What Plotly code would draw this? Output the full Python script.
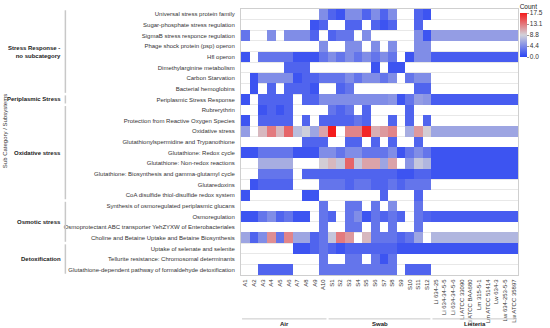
import plotly.graph_objects as go

N = None

rows = [
    "Universal stress protein family",
    "Sugar-phosphate stress regulation",
    "SigmaB stress responce regulation",
    "Phage shock protein (psp) operon",
    "Hfl operon",
    "Dimethylarginine metabolism",
    "Carbon Starvation",
    "Bacterial hemoglobins",
    "Periplasmic Stress Response",
    "Rubrerythrin",
    "Protection from Reactive Oxygen Species",
    "Oxidative stress",
    "Glutathionylspermidine and Trypanothione",
    "Glutathione: Redox cycle",
    "Glutathione: Non-redox reactions",
    "Glutathione: Biosynthesis and gamma-glutamyl cycle",
    "Glutaredoxins",
    "CoA disulfide thiol-disulfide redox system",
    "Synthesis of osmoregulated periplasmic glucans",
    "Osmoregulation",
    "Osmoprotectant ABC transporter YehZYXW of Enterobacteriales",
    "Choline and Betaine Uptake and Betaine Biosynthesis",
    "Uptake of selenate and selenite",
    "Tellurite resistance: Chromosomal determinants",
    "Glutathione-dependent pathway of formaldehyde detoxification",
]

row_groups = [
    ("Stress Response -<br>no subcategory", 8),
    ("Periplasmic Stress", 1),
    ("Oxidative stress", 9),
    ("Osmotic stress", 4),
    ("Detoxification", 3),
]

air_cols = ["A1", "A2", "A3", "A4", "A5", "A6", "A7", "A8", "A9", "A10"]
swab_cols = ["S1", "S2", "S3", "S4", "S5", "S6", "S7", "S8", "S9", "S10", "S11", "S12"]
listeria_cols = ["Li 634-25", "Li 634-34-5-5", "Li 634-34-5-6", "Li ATCC 33090",
                 "Li ATCC BAA680", "Lm 315-5-1", "Lm ATCC 51414", "Lw 634-3",
                 "Lw 634-253-5-5", "Lw ATCC 35897"]

air_vals = [
    [N, N, N, N, N, N, N, N, N, 4.5],
    [N, N, N, N, N, N, N, N, 1, 2],
    [3, N, N, 4.5, N, 4.5, 4.5, 4.5, 2, N],
    [N, N, N, N, N, N, N, N, N, 4.5],
    [1, N, 3, 3, 3, 3, 1, 1, 1, 3],
    [N, N, N, N, N, 2, 2, 2, N, N],
    [N, 1, 4.5, 4.5, 4.5, 4.5, 1, 2, 2, 3],
    [N, 1, N, 2, N, 2, 2, 2, 1, N],
    [1, N, 2, 2, 2, 2, N, 2, 2, 4.5],
    [N, N, 1, 2, 1, 2, N, N, N, N],
    [1, N, 2, 2, 2, 2, N, 2, N, 2],
    [5.5, N, 10, 13, 10, 14, 7.5, 8.5, 6, 11],
    [N, N, N, N, N, N, N, 2, 2, 2],
    [1, 1, 3, 3, 3, 3, 1, 1, 1, 4.5],
    [N, N, 6.5, 6.5, 6.5, 6.5, N, N, N, 9],
    [N, N, 3, 3, 3, 3, N, 2, 2, 2],
    [N, 1, 2, 2, 2, 2, N, N, N, 3],
    [1, N, N, N, N, N, N, 1, 1, N],
    [N, N, N, N, N, N, N, N, N, 3],
    [1, 1, 3, 4.5, 2, 3, 1, 1, N, 3],
    [N, N, N, N, N, N, N, N, N, 3],
    [6, 2, 4.5, 12, 3, 12.5, 6, 6, 2, 3],
    [N, N, N, N, N, N, 1, 1, 2, 3],
    [N, N, N, N, N, N, N, N, N, 3],
    [N, N, 2, 2, 2, 2, N, N, N, 3],
]

swab_vals = [
    [2, 1, 4.5, 4.5, 2, 4.5, 2, 4.5, N, N, 2, 1],
    [N, N, 2, 2, N, 2, 1, 2, N, N, 2, N],
    [2, 3, 3, N, 4.5, N, N, N, N, N, 4.5, 1],
    [N, N, 4.5, 4.5, N, 4.5, N, 4.5, N, N, 4.5, 4.5],
    [4.5, 3, 4.5, 3, 4.5, 3, 4.5, 3, N, 1, 4.5, 4.5],
    [N, N, N, N, N, 1, N, 1, 1, N, N, N],
    [3, 3, 4.5, 3, 4.5, 4.5, 3, 4.5, N, 3, 4.5, 4.5],
    [N, 2, 3, N, N, N, N, N, N, N, 2, 2],
    [4.5, 4.5, 4.5, 4.5, 4.5, 4.5, 4.5, 5, 1, 3, 5.5, 5],
    [3, 2, 3, N, 2, N, N, N, N, 2, N, N],
    [2, 2, 2, 3, 2, N, N, 2, N, 2, N, 2],
    [17.5, N, 12.5, 12.5, 17, 10.5, 11.5, 12.5, N, 6.5, 11.5, 9],
    [N, N, 2, 2, N, 2, N, 2, N, N, 2, N],
    [4.5, 3, 4.5, 4.5, 3, 3, 3, 4.5, 1, 3, 4.5, 3],
    [10, 8, 14, 8, 11, 11, 6, 11, N, 5, 8, 7],
    [2, 2, 2, 2, 2, 2, 2, 2, 1, 1, 2, 2],
    [3, 3, 2, 3, 3, 2, 2, 3, 2, 3, 3, 3],
    [N, N, N, N, N, N, 2, N, N, N, 2, N],
    [N, N, 3, 3, N, 3, N, 4.5, N, N, 3, N],
    [2, N, 3, 4.5, 1, 3, 2, 3, 2, N, 3, 2],
    [N, N, 3, 3, N, 3, N, 3, N, N, 3, N],
    [8, 13, 11.5, N, 10, 3, 3, 3, 2, 3, 6, N],
    [2, 1, 2, 2, 2, 2, 2, 2, 1, 1, 1, 1],
    [N, N, 3, 3, N, 3, 1, 3, N, N, N, N],
    [3, 3, 3, 3, 3, 3, 3, 3, N, 2, 2, 2],
]

listeria_vals = [
    [N, N, N, N, N, N, N, N, N, N],
    [N, N, N, N, N, N, N, N, N, N],
    [5.5, 5.5, 5.5, 5.5, 5.5, 5.5, 5.5, 5.5, 5.5, 5.5],
    [N, N, N, N, N, N, N, N, N, N],
    [1.5, 1.5, 1.5, 1.5, 1.5, 1.5, 1.5, 1.5, 1.5, 1.5],
    [N, N, N, N, N, N, N, N, N, N],
    [N, N, N, N, N, N, N, N, N, N],
    [N, N, N, N, N, N, N, N, N, N],
    [1.5, 1.5, 1.5, 1.5, 1.5, 1.5, 1.5, 1.5, 1.5, 1.5],
    [N, N, N, N, N, N, N, N, N, N],
    [N, N, N, N, N, N, N, N, N, N],
    [6, 6, 6, 6, 6, 6, 6, 6, 6, 6],
    [N, N, N, N, N, N, N, N, N, N],
    [1, 1, 1, 1, 1, 1, 1, 1, 1, 1],
    [1, 1, 1, 1, 1, 1, 1, 1, 1, 1],
    [1, 1, 1, 1, 1, 1, 1, 1, 1, 1],
    [N, N, N, N, N, N, N, N, N, N],
    [N, N, N, N, N, N, N, N, N, N],
    [N, N, N, N, N, N, N, N, N, N],
    [1.5, 1.5, 1.5, 1.5, 1.5, 1.5, 1.5, 1.5, 1.5, 1.5],
    [N, N, N, N, N, N, N, N, N, N],
    [7, 7, 7, 7, 7, 7, 7, 7, 7, 7],
    [1, 1, 1, 1, 1, 1, 1, 1, 1, 1],
    [N, N, N, N, N, N, N, N, N, N],
    [N, N, N, N, N, N, N, N, N, N],
]

col_groups = [("Air", air_cols), ("Swab", swab_cols), ("Listeria", listeria_cols)]
columns = air_cols + swab_cols + listeria_cols
z = [a + s + l for a, s, l in zip(air_vals, swab_vals, listeria_vals)]

FONT = "Liberation Sans, Arial, sans-serif"
xs = list(range(len(columns)))
ys = list(range(len(rows)))

fig = go.Figure(go.Heatmap(
    z=z, x=xs, y=ys,
    zmin=0, zmax=17.5,
    colorscale=[[0, "#2a44f4"], [0.5, "#d2d2da"], [1, "#f41c1c"]],
    hoverongaps=False,
    colorbar=dict(
        title=dict(text="Count", side="top", font=dict(size=6.5, family=FONT, color="#222")),
        thickness=7, lenmode="pixels", len=56,
        x=1.006, xanchor="left", xpad=0,
        y=1.03, yanchor="top", ypad=0,
        tickvals=[0, 4.375, 8.75, 13.125, 17.5],
        ticktext=["0.0", "4.4", "8.8", "13.1", "17.5"],
        tickfont=dict(size=6.5, family=FONT, color="#333"),
        ticks="outside", ticklen=2, tickcolor="#999",
        outlinewidth=0,
    ),
))

fig.update_layout(
    width=550, height=328,
    margin=dict(l=241, r=32, t=9, b=53, autoexpand=False),
    paper_bgcolor="white", plot_bgcolor="white",
    font=dict(family=FONT, size=6, color="#333"),
    showlegend=False,
)

fig.update_xaxes(
    tickvals=xs, ticktext=columns, tickangle=-90,
    tickfont=dict(size=6, family=FONT, color="#333"),
    range=[-0.5, len(columns) - 0.5],
    showgrid=False, zeroline=False, automargin=False,
    showline=True, mirror=True, linecolor="#cfcfcf", linewidth=1,
    ticks="", ticklabelstandoff=1,
)
fig.update_yaxes(
    tickvals=ys, ticktext=rows,
    tickfont=dict(size=6, family=FONT, color="#333"),
    range=[len(rows) - 0.5, -0.5],
    showgrid=False, zeroline=False, automargin=False,
    showline=True, mirror=True, linecolor="#cfcfcf", linewidth=1,
    ticks="", ticklabelstandoff=4,
    minor=dict(tick0=0.5, dtick=1, showgrid=True, gridcolor="#e8e8e8", gridwidth=1, ticks=""),
)

shapes = []
annotations = []

# row group brackets and labels
start = 0
for name, count in row_groups:
    end = start + count - 1
    shapes.append(dict(type="line", xref="paper", yref="y",
                       x0=-0.634, x1=-0.634, y0=start - 0.5 + 0.12, y1=end + 0.5 - 0.12,
                       line=dict(color="#c8c8c8", width=1.5)))
    annotations.append(dict(xref="paper", yref="y", x=-0.642, y=(start + end) / 2,
                            text="<b>" + name + "</b>", showarrow=False,
                            xanchor="right", yanchor="middle", align="right",
                            font=dict(size=6, family=FONT, color="#222")))
    start = end + 1

# column group lines and labels
start = 0
for name, cols in col_groups:
    end = start + len(cols) - 1
    shapes.append(dict(type="line", xref="x", yref="paper",
                       x0=start - 0.5 + 0.12, x1=end + 0.5 - 0.12, y0=-0.165, y1=-0.165,
                       line=dict(color="#c8c8c8", width=1)))
    annotations.append(dict(xref="x", yref="paper", x=(start + end) / 2, y=-0.183,
                            text="<b>" + name + "</b>", showarrow=False,
                            xanchor="center", yanchor="middle",
                            font=dict(size=6, family=FONT, color="#222")))
    start = end + 1

annotations.append(dict(xref="paper", yref="paper", x=-0.849, y=0.54,
                        text="Sub Category / Subsystems", textangle=-90, showarrow=False,
                        xanchor="center", yanchor="middle",
                        font=dict(size=6, family=FONT, color="#333")))

fig.update_layout(shapes=shapes, annotations=annotations)
fig.write_html("out.html", config={"displayModeBar": False},
               post_script="document.body.style.margin='0';document.body.style.overflow='hidden';")
